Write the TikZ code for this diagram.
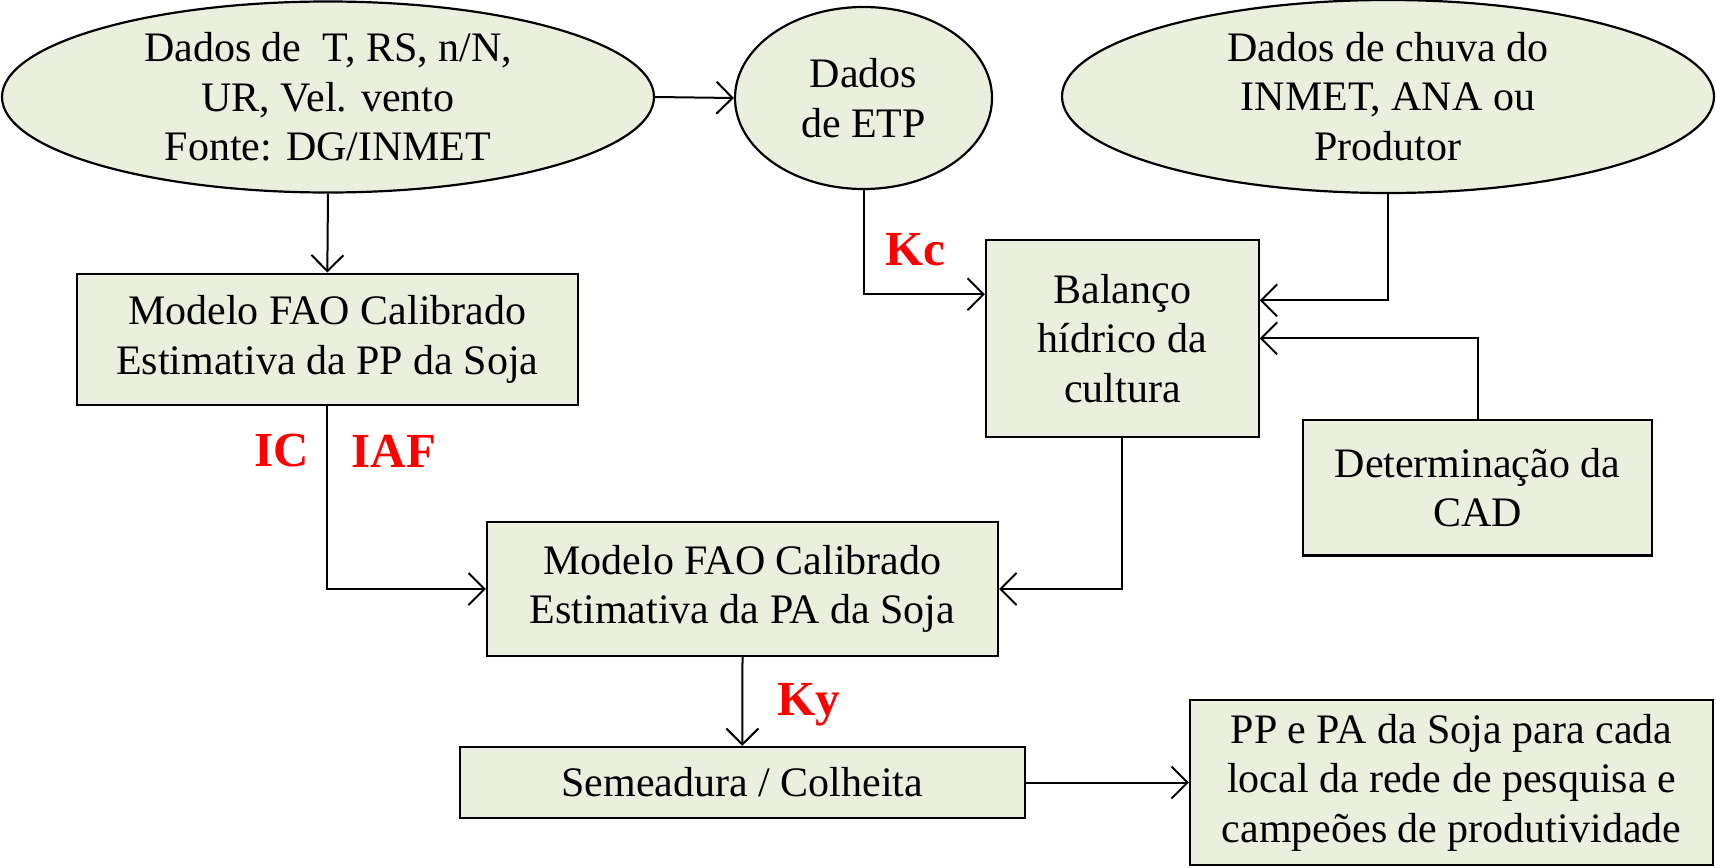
\documentclass[tikz,border=0pt]{standalone}
\usepackage{fontspec}
\setmainfont{Liberation Serif}
\usepackage{tikz}
\usetikzlibrary{shapes}
\usetikzlibrary{arrows.meta,positioning,calc}
\definecolor{oliva}{RGB}{235,240,222}
\definecolor{vermelho}{RGB}{255,0,0}
\tikzstyle{Dado}=[shape=ellipse,draw=black,fill=oliva,line width=1.1pt,inner sep=0pt,align=center,font=\fontsize{21}{24.8}\selectfont]
\tikzstyle{Caixa}=[shape=rectangle,draw=black,fill=oliva,line width=1.1pt,inner sep=0pt,align=center,font=\fontsize{21}{24.8}\selectfont]
\tikzstyle{seta}=[-{Straight Barb[length=8pt,width=16pt]},line width=1pt]
\tikzstyle{rotulo}=[text=vermelho,font=\fontsize{24.5}{28}\selectfont\bfseries]

\begin{document}
\begin{tikzpicture}[x=0.5pt,y=-0.5pt]
\useasboundingbox (0,0) rectangle (1716,867);

% entradas
\node[Dado,minimum width=326pt,minimum height=95.5pt] (DADOS) at (328,97) {Dados de~ T, RS, n/N,\\UR, Vel. vento\\Fonte: DG/INMET};
\node[Dado,minimum width=128.5pt,minimum height=91pt] (ETP) at (863.5,98) {Dados\\de ETP};
\node[Dado,minimum width=326pt,minimum height=96.5pt] (CHUVA) at (1388,96.5) {Dados de chuva do\\INMET, ANA ou\\Produtor};

% modelos e balanco
\node[Caixa,minimum width=250.5pt,minimum height=65.7pt] (PP) at (327.3,339.3) {Modelo FAO Calibrado\\Estimativa da PP da Soja};
\node[Caixa,minimum width=136.3pt,minimum height=98.3pt] (BH) at (1122.3,338.3) {Balanço\\hídrico da\\cultura};
\node[Caixa,minimum width=174.5pt,minimum height=67.7pt] (CAD) at (1477.5,487.7) {Determinação da\\CAD};
\node[Caixa,minimum width=255.5pt,minimum height=67pt] (PA) at (742.5,589) {Modelo FAO Calibrado\\Estimativa da PA da Soja};
\node[Caixa,minimum width=282.3pt,minimum height=35.5pt] (SEM) at (742.3,782.5) {Semeadura / Colheita};
\node[Caixa,minimum width=261.5pt,minimum height=82.5pt] (FIM) at (1451.5,782.5) {PP e PA da Soja para cada\\local da rede de pesquisa e\\campeões de produtividade};

% coeficientes
\node[rotulo] (KC) at (915,250) {Kc};
\node[rotulo] (IC) at (281.5,451) {IC};
\node[rotulo] (IAF) at (394,451) {IAF};
\node[rotulo] (KY) at (809,705) {Ky};

\path
(DADOS.east) edge [seta] (ETP.west)
(DADOS.south) edge [seta] (PP.north)
(PA.south) edge [seta] (SEM.north)
(SEM.east) edge [seta] (FIM.west);

\draw[seta] (ETP.south) |- ([yshift=22pt]BH.west);
\draw[seta] (CHUVA.south) |- ([yshift=19pt]BH.east);
\draw[seta] (CAD.north) |- (BH.east);
\draw[seta] (PP.south) |- (PA.west);
\draw[seta] (BH.south) |- (PA.east);

\end{tikzpicture}
\end{document}
